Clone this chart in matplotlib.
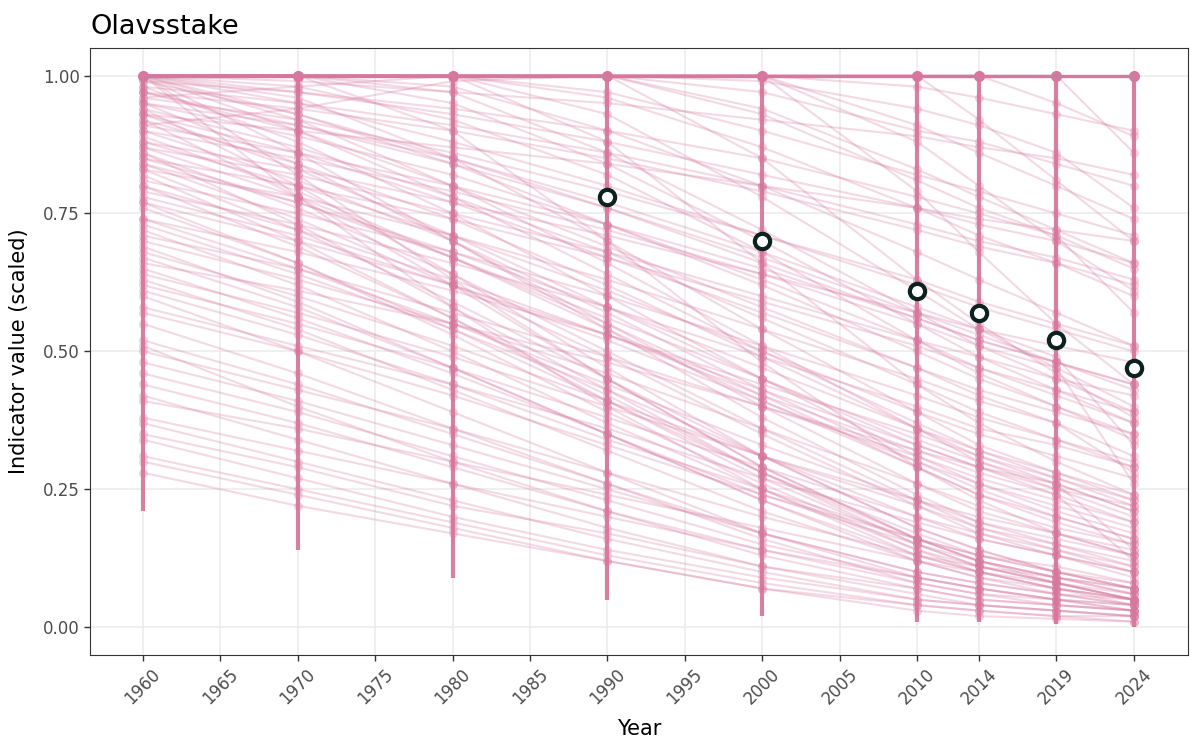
import numpy as np
import matplotlib
matplotlib.use("Agg")
import matplotlib.pyplot as plt

# survey years (x positions of the columns)
years = [1960, 1970, 1980, 1990, 2000, 2010, 2014, 2019, 2024]
tick_years = [1960, 1965, 1970, 1975, 1980, 1985, 1990, 1995, 2000, 2005,
              2010, 2014, 2019, 2024]

# median of the scaled indicator, only drawn from 1990 on
median_years = [1990, 2000, 2010, 2014, 2019, 2024]
median_vals = [0.78, 0.70, 0.61, 0.57, 0.52, 0.47]

# lower end of the uncertainty column at each year (upper end is 1.0)
col_low = [0.21, 0.14, 0.09, 0.05, 0.02, 0.01, 0.01, 0.005, 0.0]

# individual trajectories, one row per series, values per year above
trajectories = [
    [1.00, 1.00, 1.00, 1.00, 1.00, 1.00, 1.00, 1.00, 1.00],
    [1.00, 1.00, 1.00, 1.00, 1.00, 0.98, 0.96, 0.93, 0.90],
    [1.00, 0.99, 0.97, 0.95, 0.92, 0.89, 0.87, 0.85, 0.82],
    [1.00, 0.97, 0.93, 0.88, 0.82, 0.76, 0.73, 0.70, 0.66],
    [1.00, 0.95, 0.88, 0.80, 0.71, 0.62, 0.58, 0.54, 0.50],
    [1.00, 0.93, 0.84, 0.73, 0.62, 0.50, 0.45, 0.40, 0.35],
    [1.00, 0.90, 0.78, 0.64, 0.50, 0.37, 0.32, 0.27, 0.22],
    [1.00, 0.86, 0.70, 0.54, 0.38, 0.24, 0.19, 0.15, 0.11],
    [1.00, 0.82, 0.63, 0.45, 0.29, 0.16, 0.12, 0.09, 0.06],
    [1.00, 1.00, 0.98, 0.90, 0.80, 0.68, 0.63, 0.57, 0.51],
    [1.00, 1.00, 1.00, 0.96, 0.87, 0.76, 0.71, 0.66, 0.60],
    [1.00, 1.00, 1.00, 1.00, 0.94, 0.83, 0.78, 0.72, 0.66],
    [0.98, 0.95, 0.91, 0.86, 0.80, 0.73, 0.70, 0.67, 0.63],
    [0.97, 0.91, 0.84, 0.76, 0.67, 0.57, 0.53, 0.48, 0.43],
    [0.96, 0.92, 0.86, 0.79, 0.71, 0.63, 0.59, 0.55, 0.51],
    [0.95, 0.89, 0.82, 0.73, 0.63, 0.52, 0.47, 0.42, 0.37],
    [0.94, 0.87, 0.78, 0.68, 0.56, 0.44, 0.39, 0.34, 0.29],
    [0.93, 0.90, 0.87, 0.84, 0.80, 0.76, 0.74, 0.72, 0.70],
    [0.92, 0.84, 0.74, 0.62, 0.49, 0.36, 0.31, 0.26, 0.21],
    [0.91, 0.86, 0.80, 0.73, 0.65, 0.56, 0.52, 0.48, 0.44],
    [0.90, 0.81, 0.70, 0.57, 0.43, 0.30, 0.25, 0.20, 0.16],
    [0.88, 0.83, 0.77, 0.71, 0.64, 0.57, 0.54, 0.51, 0.48],
    [0.87, 0.78, 0.67, 0.55, 0.42, 0.29, 0.24, 0.19, 0.15],
    [0.86, 0.76, 0.64, 0.50, 0.36, 0.23, 0.18, 0.14, 0.10],
    [0.85, 0.80, 0.74, 0.67, 0.59, 0.51, 0.47, 0.43, 0.39],
    [0.84, 0.74, 0.62, 0.49, 0.35, 0.22, 0.17, 0.13, 0.09],
    [0.83, 0.72, 0.59, 0.45, 0.31, 0.18, 0.14, 0.10, 0.07],
    [0.81, 0.75, 0.68, 0.60, 0.51, 0.42, 0.38, 0.34, 0.30],
    [0.80, 0.69, 0.56, 0.42, 0.28, 0.16, 0.12, 0.09, 0.06],
    [0.78, 0.71, 0.62, 0.52, 0.41, 0.30, 0.26, 0.22, 0.18],
    [0.76, 0.66, 0.54, 0.41, 0.28, 0.17, 0.13, 0.10, 0.07],
    [0.74, 0.68, 0.61, 0.53, 0.44, 0.35, 0.31, 0.27, 0.23],
    [0.72, 0.62, 0.50, 0.37, 0.25, 0.14, 0.11, 0.08, 0.05],
    [0.70, 0.63, 0.55, 0.46, 0.36, 0.26, 0.22, 0.18, 0.15],
    [0.67, 0.58, 0.47, 0.35, 0.23, 0.13, 0.10, 0.07, 0.05],
    [0.66, 0.61, 0.55, 0.48, 0.40, 0.32, 0.29, 0.25, 0.22],
    [0.63, 0.54, 0.43, 0.32, 0.21, 0.12, 0.09, 0.06, 0.04],
    [0.62, 0.55, 0.47, 0.38, 0.29, 0.20, 0.17, 0.14, 0.11],
    [0.60, 0.50, 0.39, 0.28, 0.17, 0.09, 0.07, 0.05, 0.03],
    [0.57, 0.50, 0.42, 0.33, 0.24, 0.16, 0.13, 0.10, 0.08],
    [0.52, 0.44, 0.35, 0.26, 0.17, 0.10, 0.08, 0.06, 0.04],
    [0.51, 0.40, 0.30, 0.21, 0.13, 0.07, 0.05, 0.04, 0.03],
    [0.46, 0.39, 0.31, 0.23, 0.15, 0.09, 0.07, 0.05, 0.04],
    [0.42, 0.34, 0.26, 0.18, 0.11, 0.06, 0.04, 0.03, 0.02],
    [0.41, 0.36, 0.30, 0.24, 0.18, 0.12, 0.10, 0.08, 0.06],
    [0.37, 0.30, 0.23, 0.16, 0.10, 0.05, 0.04, 0.03, 0.02],
    [0.35, 0.29, 0.22, 0.17, 0.11, 0.07, 0.05, 0.04, 0.03],
    [0.31, 0.25, 0.19, 0.13, 0.08, 0.04, 0.03, 0.02, 0.01],
    [0.28, 0.22, 0.17, 0.12, 0.07, 0.03, 0.02, 0.015, 0.01],
    [1.00, 0.78, 0.58, 0.40, 0.25, 0.13, 0.10, 0.07, 0.05],
    [1.00, 0.96, 0.85, 0.70, 0.54, 0.39, 0.33, 0.28, 0.23],
    [1.00, 1.00, 0.95, 0.84, 0.70, 0.55, 0.49, 0.43, 0.37],
    [1.00, 1.00, 1.00, 0.93, 0.78, 0.61, 0.54, 0.47, 0.40],
    [1.00, 1.00, 1.00, 1.00, 1.00, 0.91, 0.86, 0.80, 0.74],
    [1.00, 1.00, 1.00, 1.00, 1.00, 1.00, 1.00, 0.95, 0.89],
    [0.99, 0.93, 0.85, 0.76, 0.66, 0.56, 0.52, 0.48, 0.44],
    [0.98, 0.88, 0.75, 0.60, 0.45, 0.31, 0.26, 0.21, 0.17],
    [0.97, 0.94, 0.90, 0.85, 0.79, 0.72, 0.69, 0.66, 0.62],
    [0.95, 0.84, 0.70, 0.55, 0.40, 0.26, 0.21, 0.17, 0.13],
    [0.94, 0.80, 0.64, 0.47, 0.31, 0.18, 0.14, 0.10, 0.07],
    [0.93, 0.86, 0.77, 0.67, 0.57, 0.47, 0.43, 0.39, 0.35],
    [0.92, 0.78, 0.62, 0.45, 0.29, 0.16, 0.12, 0.08, 0.05],
    [0.89, 0.79, 0.67, 0.54, 0.41, 0.29, 0.24, 0.20, 0.16],
    [0.87, 0.82, 0.75, 0.68, 0.60, 0.52, 0.49, 0.45, 0.42],
    [0.86, 0.73, 0.58, 0.43, 0.28, 0.15, 0.11, 0.08, 0.05],
    [0.84, 0.77, 0.68, 0.58, 0.47, 0.36, 0.32, 0.28, 0.24],
    [0.82, 0.70, 0.56, 0.41, 0.27, 0.15, 0.11, 0.08, 0.05],
    [0.79, 0.73, 0.66, 0.58, 0.49, 0.40, 0.36, 0.33, 0.29],
    [0.77, 0.66, 0.53, 0.39, 0.26, 0.14, 0.10, 0.07, 0.05],
    [0.73, 0.64, 0.54, 0.43, 0.31, 0.20, 0.16, 0.13, 0.10],
    [0.69, 0.59, 0.47, 0.35, 0.23, 0.12, 0.09, 0.07, 0.04],
    [0.65, 0.56, 0.46, 0.35, 0.24, 0.15, 0.12, 0.09, 0.07],
    [0.55, 0.46, 0.36, 0.26, 0.16, 0.08, 0.06, 0.04, 0.03],
    [0.48, 0.41, 0.33, 0.25, 0.17, 0.10, 0.08, 0.06, 0.05],
    [1.00, 1.00, 1.00, 1.00, 0.97, 0.90, 0.88, 0.84, 0.80],
    [1.00, 0.98, 0.92, 0.82, 0.68, 0.52, 0.46, 0.40, 0.34],
    [1.00, 1.00, 0.97, 0.86, 0.72, 0.57, 0.51, 0.45, 0.39],
    [1.00, 0.92, 0.80, 0.66, 0.51, 0.36, 0.30, 0.25, 0.20],
    [0.96, 0.98, 1.00, 0.97, 0.90, 0.82, 0.79, 0.75, 0.71],
    [0.91, 0.94, 0.99, 1.00, 0.93, 0.81, 0.76, 0.71, 0.65],
    [1.00, 1.00, 1.00, 1.00, 1.00, 0.88, 0.80, 0.70, 0.61],
    [1.00, 1.00, 1.00, 1.00, 1.00, 0.79, 0.68, 0.55, 0.44],
    [1.00, 1.00, 1.00, 1.00, 0.85, 0.63, 0.55, 0.46, 0.38],
    [1.00, 1.00, 1.00, 0.88, 0.66, 0.44, 0.37, 0.30, 0.24],
    [1.00, 1.00, 0.90, 0.70, 0.48, 0.29, 0.23, 0.17, 0.13],
    [1.00, 1.00, 1.00, 1.00, 1.00, 1.00, 0.92, 0.81, 0.70],
    [1.00, 1.00, 1.00, 1.00, 1.00, 1.00, 1.00, 1.00, 0.86],
    [1.00, 1.00, 1.00, 1.00, 0.99, 0.94, 0.91, 0.86, 0.76],
    [0.99, 0.97, 0.94, 0.90, 0.85, 0.78, 0.75, 0.71, 0.57],
    [0.97, 0.90, 0.80, 0.69, 0.58, 0.47, 0.42, 0.37, 0.28],
    [0.95, 0.91, 0.85, 0.77, 0.68, 0.58, 0.54, 0.49, 0.33],
    [0.93, 0.83, 0.71, 0.58, 0.45, 0.33, 0.29, 0.24, 0.19],
    [0.90, 0.85, 0.79, 0.72, 0.64, 0.55, 0.51, 0.47, 0.26],
    [0.88, 0.80, 0.71, 0.61, 0.50, 0.39, 0.35, 0.31, 0.27],
    [0.85, 0.77, 0.67, 0.56, 0.45, 0.34, 0.30, 0.26, 0.14],
    [0.83, 0.78, 0.71, 0.63, 0.54, 0.45, 0.41, 0.37, 0.31],
    [0.80, 0.72, 0.63, 0.53, 0.42, 0.32, 0.28, 0.24, 0.12],
    [0.77, 0.70, 0.62, 0.53, 0.43, 0.33, 0.29, 0.26, 0.21],
    [0.74, 0.65, 0.55, 0.44, 0.33, 0.23, 0.19, 0.16, 0.13],
    [0.71, 0.65, 0.57, 0.49, 0.40, 0.31, 0.27, 0.23, 0.19],
    [0.68, 0.60, 0.51, 0.41, 0.31, 0.22, 0.18, 0.15, 0.12],
    [0.64, 0.57, 0.49, 0.40, 0.31, 0.23, 0.20, 0.17, 0.14],
    [0.61, 0.53, 0.44, 0.34, 0.25, 0.16, 0.13, 0.11, 0.08],
    [0.58, 0.51, 0.44, 0.36, 0.27, 0.19, 0.16, 0.13, 0.10],
    [0.50, 0.43, 0.36, 0.28, 0.20, 0.13, 0.11, 0.09, 0.07],
    [0.44, 0.37, 0.29, 0.21, 0.14, 0.08, 0.06, 0.05, 0.03],
    [0.38, 0.32, 0.26, 0.20, 0.14, 0.09, 0.07, 0.05, 0.04],
    [0.34, 0.27, 0.20, 0.14, 0.09, 0.05, 0.04, 0.03, 0.02],
    [0.30, 0.24, 0.18, 0.12, 0.07, 0.04, 0.03, 0.02, 0.02],
]

pink = "#d6789d"
dark = "#0d221e"

fig, ax = plt.subplots(figsize=(12, 7.5), dpi=100)
fig.subplots_adjust(left=0.075, right=0.99, top=0.936, bottom=0.127)

# grid like ggplot theme_bw
ax.set_axisbelow(True)
ax.grid(True, color="#ebebeb", linewidth=1.1)

# uncertainty columns
ax.vlines(years, col_low, 1.0, color=pink, linewidth=3.0, alpha=0.95, zorder=2)

for traj in trajectories:
    ax.plot(years, traj, color=pink, linewidth=1.5, alpha=0.28, zorder=3)
    ax.plot(years, traj, "o", color=pink, markersize=6.5, alpha=0.32,
            markeredgewidth=0, zorder=3)

ax.plot(years, [1.0] * len(years), color=pink, linewidth=2.4, zorder=4)
ax.plot(years, [1.0] * len(years), "o", color=pink, markersize=7, zorder=4)

ax.plot(median_years, median_vals, "o", markersize=11, markerfacecolor="white",
        markeredgecolor=dark, markeredgewidth=3, linestyle="none", zorder=6)

ax.set_xlim(1956.58, 2027.5)
ax.set_ylim(-0.05, 1.05)
ax.set_xticks(tick_years)
ax.set_xticklabels([str(y) for y in tick_years], rotation=45, ha="center", va="top")
ax.set_yticks([0, 0.25, 0.5, 0.75, 1.0])
ax.set_yticklabels(["0.00", "0.25", "0.50", "0.75", "1.00"])
ax.tick_params(axis="both", colors="#333333", labelcolor="#4d4d4d",
               labelsize=12, length=4, width=1)

for s in ax.spines.values():
    s.set_color("#333333")
    s.set_linewidth(0.8)

ax.set_xlabel("Year", fontsize=15, labelpad=8)
ax.set_ylabel("Indicator value (scaled)", fontsize=15, labelpad=10)
ax.set_title("Olavsstake", loc="left", fontsize=19.5, pad=10)

fig.savefig("out.png", dpi=100)
